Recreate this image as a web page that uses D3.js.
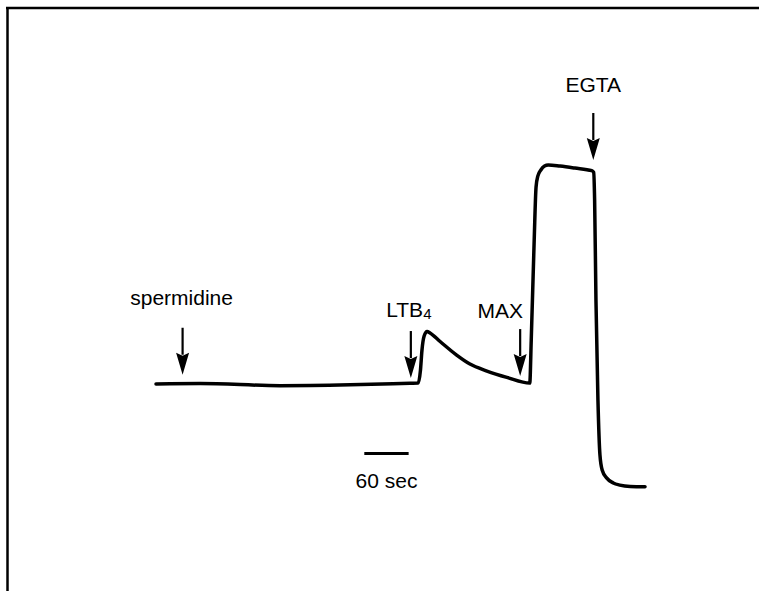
<!DOCTYPE html>
<html>
<head>
  <meta charset="utf-8">
  <title>Calcium trace</title>
  <script src="https://d3js.org/d3.v7.min.js"></script>
  <style>
    body { margin: 0; background: #fff; }
    svg { display: block; }
    text { font-family: "Liberation Sans", Arial, Helvetica, sans-serif; fill: #000; }
  </style>
</head>
<body>
<div id="chart"></div>

<script>
// trace, time in seconds, signal in relative units (baseline = 0)
var times = [0, 60, 168, 263, 344, 355, 358, 360, 363, 367, 371, 385, 407, 425, 448, 475, 506,
             508, 512, 514.5, 517, 521, 526, 531, 547, 567, 590, 592.5,
             593.8, 595.6, 598.3, 601, 604, 610, 619, 628, 642, 662];
var signal = [-0.2, 0, -1.0, -0.6, 0.1, 0.2, 6, 15, 21.7, 23.8, 23.1, 19.1, 13, 8.9, 5.7, 2.8, 0.2,
              19.9, 65.7, 89.9, 95, 97.7, 99.5, 100, 99.5, 98.6, 97.4, 96.6,
              84, 38.2, -7.6, -32.7, -39.6, -43.2, -45.5, -46.5, -47.1, -47.2];

// additions marked with arrows
var eventLabels = ["spermidine", "LTB", "MAX", "EGTA"];
var eventTimes = [36, 345, 493, 592];
var eventTips = [4, 2.5, 3.4, 102.3];

// scale bar
var barSeconds = 60;
var barStart = 282;
var barLevel = -32;
var barLabel = "60 sec";

var width = 759, height = 591;

var svg = d3.select("#chart").append("svg")
  .attr("width", width)
  .attr("height", height);

// frame (top and left edges only)
svg.append("line")
  .attr("x1", 6).attr("x2", width).attr("y1", 8).attr("y2", 8)
  .attr("stroke", "#000").attr("stroke-width", 2.5);
svg.append("line")
  .attr("x1", 7.5).attr("x2", 7.5).attr("y1", 7).attr("y2", height)
  .attr("stroke", "#000").attr("stroke-width", 2.5);

var x = d3.scaleLinear().domain([0, 662]).range([156, 645]);
var y = d3.scaleLinear().domain([0, 100]).range([383.5, 165]);

var trace = times.map(function(t, i) { return [t, signal[i]]; });

svg.append("path")
  .datum(trace)
  .attr("fill", "none")
  .attr("stroke", "#000")
  .attr("stroke-width", 3.5)
  .attr("stroke-linejoin", "round")
  .attr("stroke-linecap", "round")
  .attr("d", d3.line()
    .x(function(d) { return x(d[0]); })
    .y(function(d) { return y(d[1]); })
    .curve(d3.curveMonotoneX));

// arrows
var shaft = 47, headLen = 22, headHalf = 6.5;
var labelDx = [-1, -2, -20, 0];
var labelDy = [-22.5, -14, -11, -21];

eventTimes.forEach(function(t, i) {
  var ax = x(t), tip = y(eventTips[i]), top = tip - shaft;
  var g = svg.append("g");
  g.append("line")
    .attr("x1", ax).attr("x2", ax)
    .attr("y1", top).attr("y2", tip - headLen + 2)
    .attr("stroke", "#000").attr("stroke-width", 2.2);
  g.append("path")
    .attr("d", "M" + ax + "," + tip +
      "L" + (ax - headHalf) + "," + (tip - headLen) +
      "L" + ax + "," + (tip - headLen + 3) +
      "L" + (ax + headHalf) + "," + (tip - headLen) + "Z")
    .attr("fill", "#000");

  var label = g.append("text")
    .attr("x", ax + labelDx[i])
    .attr("y", top + labelDy[i])
    .attr("text-anchor", "middle")
    .style("font-size", "21px")
    .text(eventLabels[i]);
  if (eventLabels[i] === "LTB") {
    label.append("tspan")
      .attr("dy", 2)
      .style("font-size", "15px")
      .text("4");
  }
});

// time scale bar
svg.append("line")
  .attr("x1", x(barStart)).attr("x2", x(barStart + barSeconds))
  .attr("y1", y(barLevel)).attr("y2", y(barLevel))
  .attr("stroke", "#000").attr("stroke-width", 3);
svg.append("text")
  .attr("x", (x(barStart) + x(barStart + barSeconds)) / 2)
  .attr("y", y(barLevel) + 35)
  .attr("text-anchor", "middle")
  .style("font-size", "21px")
  .text(barLabel);
</script>
</body>
</html>
